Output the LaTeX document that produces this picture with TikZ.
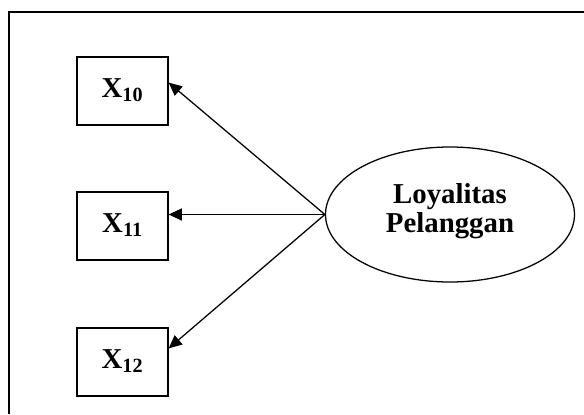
\documentclass[tikz,border=0pt]{standalone}
\usepackage{fontspec}
\setmainfont{Liberation Serif}
\usetikzlibrary{shapes.geometric,arrows.meta}

\begin{document}
\begin{tikzpicture}[line width=0.9pt,
  ind/.style={draw, minimum width=2.275cm, minimum height=1.7cm, inner sep=0pt, text height=14pt, text depth=5.4pt, font=\fontsize{20.5}{20.5}\selectfont\bfseries},
  lat/.style={draw, ellipse, minimum width=6.225cm, minimum height=3.375cm, inner sep=0pt, align=center, text height=34.5pt, text depth=9.6pt, font=\fontsize{20.5}{20.6}\selectfont\bfseries},
  arr/.style={-{Triangle[length=0.33cm,width=0.3cm]}}]
\useasboundingbox (0,0) rectangle (14.6,10.35);
\draw [line width=1.1pt] (0.225,0) -- (0.225,10.05) -- (14.6,10.05);
\node[ind] (x10) at (3.0625,8.075) {X\textsubscript{10}};
\node[ind] (x11) at (3.0625,4.7) {X\textsubscript{11}};
\node[ind] (x12) at (3.0625,1.3) {X\textsubscript{12}};
\node[lat] (lp) at (11.25,4.9875) {Loyalitas\\Pelanggan};
\draw[arr] (lp.west) -- ([yshift=0.21cm]x10.east);
\draw[arr] (lp.west) -- (lp.west -| x11.east);
\draw[arr] (lp.west) -- ([yshift=0.34cm]x12.east);
\end{tikzpicture}
\end{document}
